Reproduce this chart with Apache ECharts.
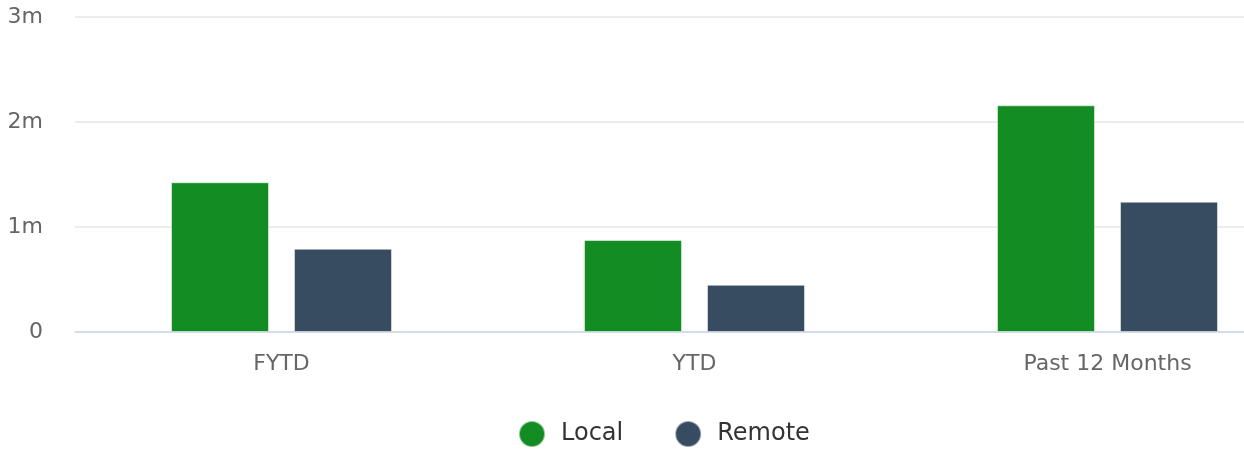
<!DOCTYPE html>
<html>
<head>
<meta charset="utf-8">
<script src="https://cdn.jsdelivr.net/npm/echarts@6/dist/echarts.min.js"></script>
<style>html,body{margin:0;padding:0;background:#fff;overflow:hidden;width:1244px;height:449px}#c{width:1314px;height:449px}</style>
</head>
<body>
<div id="c"></div>
<script>
var categories = ['FYTD', 'YTD', 'Past 12 Months'];
var localValues = [1426000, 876000, 2159000];
var remoteValues = [793000, 450000, 1241000];
var yTicks = [0, 1000000, 2000000, 3000000];
var yTickLabels = ['0', '1m', '2m', '3m'];

var chart = echarts.init(document.getElementById('c'));
chart.setOption({
  animation: false,
  grid: { left: 75, right: 0, top: 17, height: 315, containLabel: false },
  legend: {
    data: ['Local', 'Remote'],
    left: 518, top: 420, padding: 0,
    icon: 'circle', itemWidth: 26, itemHeight: 26, itemGap: 51,
    textStyle: { fontSize: 24, color: '#333', fontFamily: 'DejaVu Sans', padding: [0,0,0,11] }
  },
  xAxis: {
    type: 'category', data: categories,
    axisLine: { lineStyle: { color: '#ccd6eb', width: 1.5 } },
    axisTick: { show: false },
    axisLabel: { color: '#666', fontSize: 22, fontFamily: 'DejaVu Sans', margin: 21 }
  },
  yAxis: {
    type: 'value', min: 0, max: 3000000, interval: 1000000,
    axisLine: { show: false }, axisTick: { show: false },
    splitLine: { lineStyle: { color: '#e6e6e6', width: 1.5 } },
    axisLabel: {
      color: '#666', fontSize: 22, fontFamily: 'DejaVu Sans', margin: 32,
      formatter: function (v) { var i = yTicks.indexOf(v); return i >= 0 ? yTickLabels[i] : ''; }
    }
  },
  series: [
    { name: 'Local', type: 'bar', data: localValues, barWidth: 98, barGap: '25.5%',
      itemStyle: { color: '#128c23', borderColor: 'rgba(255,255,255,0.5)', borderWidth: 1 } },
    { name: 'Remote', type: 'bar', data: remoteValues, barWidth: 98,
      itemStyle: { color: '#374b61', borderColor: 'rgba(255,255,255,0.5)', borderWidth: 1 } }
  ]
});
</script>
</body>
</html>
